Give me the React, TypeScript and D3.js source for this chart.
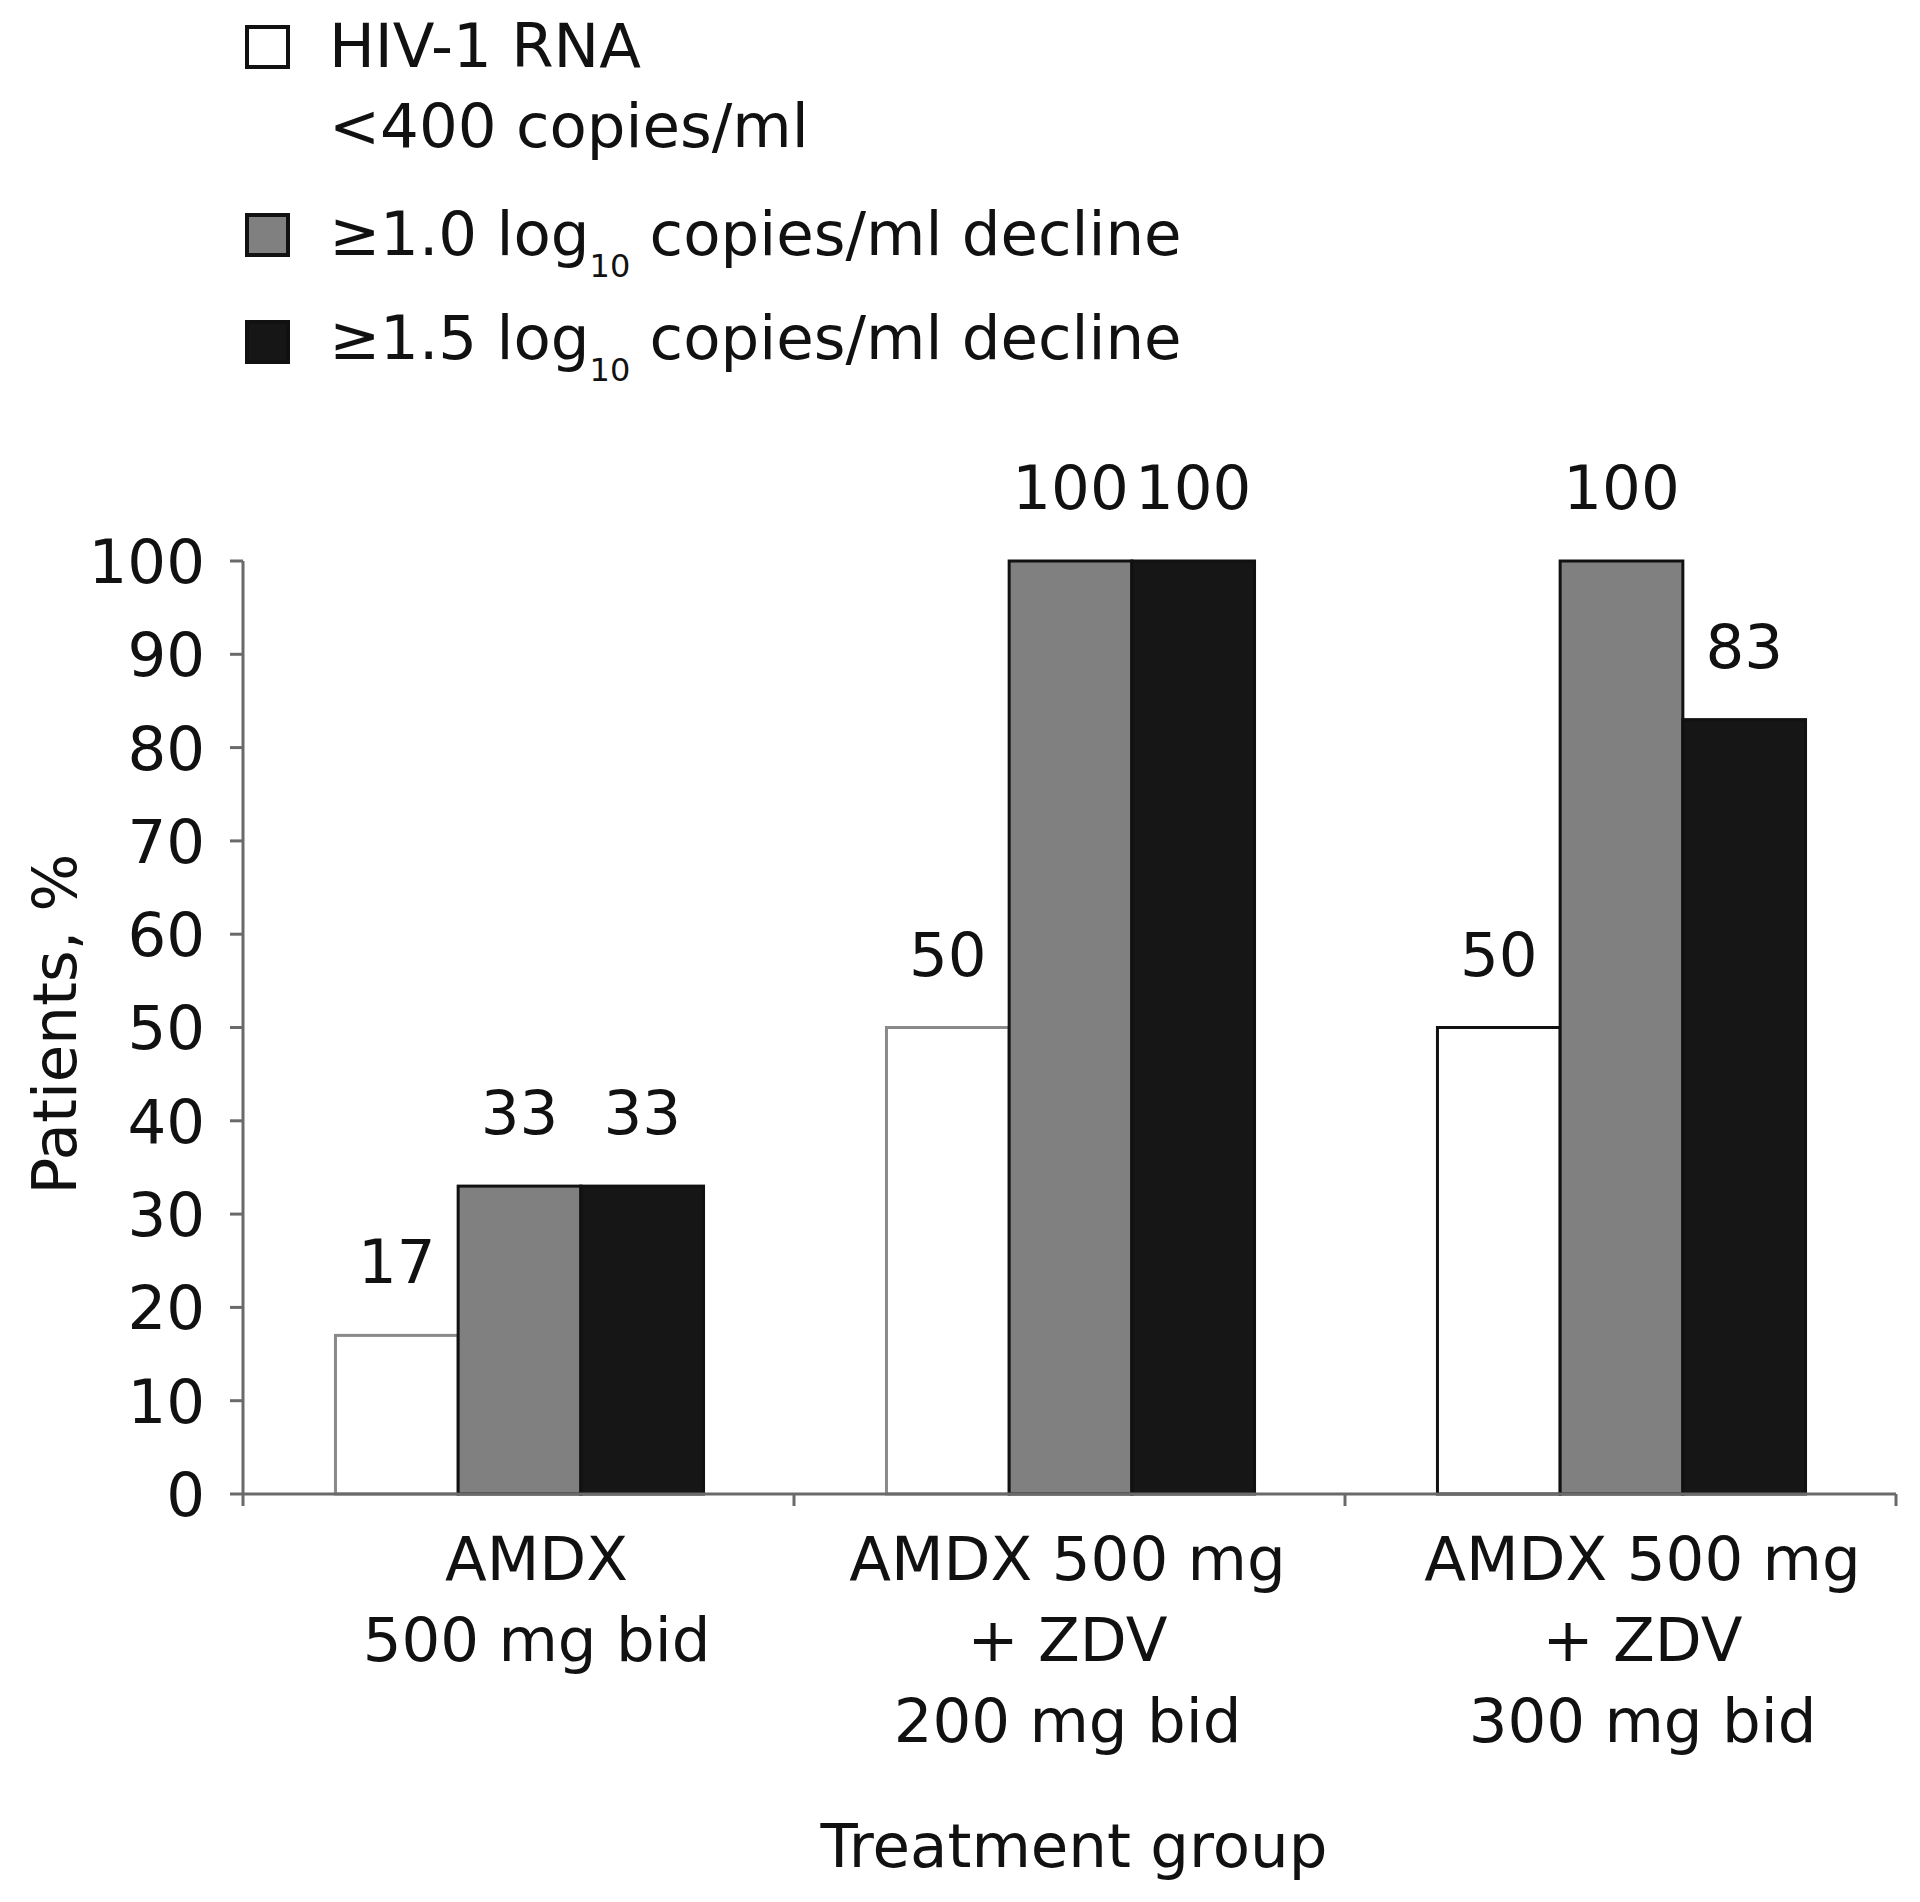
import React from "react";
import * as d3 from "d3";

const categories = ["AMDX 500 mg bid", "AMDX 500 mg + ZDV 200 mg bid", "AMDX 500 mg + ZDV 300 mg bid"];
const categoryLines = [
  ["AMDX", "500 mg bid"],
  ["AMDX 500 mg", "+ ZDV", "200 mg bid"],
  ["AMDX 500 mg", "+ ZDV", "300 mg bid"],
];
const seriesKeys = ["rna400", "decline10", "decline15"];
const rna400 = [17, 50, 50];
const decline10 = [33, 100, 100];
const decline15 = [33, 100, 83];
const yTicks = [0, 10, 20, 30, 40, 50, 60, 70, 80, 90, 100];

const W = 1920;
const H = 1902;
const FONT = "'DejaVu Sans', 'Liberation Sans', Arial, sans-serif";
const FS = 61;

export default function App() {
  const seriesValues: Record<string, number[]> = { rna400, decline10, decline15 };
  const fills: Record<string, string> = { rna400: "#ffffff", decline10: "#808080", decline15: "#161616" };

  const x0 = d3.scaleBand<string>().domain(categories).range([243, 1896]).paddingInner(0).paddingOuter(0);
  const bw = x0.bandwidth();
  const groupW = bw * 0.668;
  const x1 = d3.scaleBand<string>().domain(seriesKeys).range([0, groupW]).padding(0);
  const y = d3.scaleLinear().domain([0, 100]).range([1494, 561]);
  const y0 = y(0);
  const axisColor = "#6a6a6a";

  const bars: React.ReactNode[] = [];
  const labels: React.ReactNode[] = [];
  categories.forEach((c, ci) => {
    const gx = (x0(c) as number) + (bw - groupW) / 2 + 1;
    seriesKeys.forEach((k) => {
      const v = seriesValues[k][ci];
      const bx = gx + (x1(k) as number);
      const w = x1.bandwidth();
      const stroke = k === "rna400" ? (ci < 2 ? "#8a8a8a" : "#111") : "#111";
      bars.push(
        <rect key={`b-${ci}-${k}`} x={bx} y={y(v)} width={w} height={y0 - y(v)} fill={fills[k]} stroke={stroke} strokeWidth={3} />
      );
      labels.push(
        <text key={`l-${ci}-${k}`} x={bx + w / 2} y={y(v) - 52} textAnchor="middle" fontSize={FS} fill="#111">
          {v}
        </text>
      );
    });
  });

  const legendItems = [
    { key: "rna400", cy: 47 },
    { key: "decline10", cy: 235 },
    { key: "decline15", cy: 342 },
  ];

  const labelShift = [18, -2, 22];

  return (
    <svg
      width={W}
      height={H}
      style={{ display: "block", position: "absolute", left: 0, top: 0 }}
      fontFamily={FONT}
    >
      <rect x={0} y={0} width={W} height={H} fill="#fff" />
      {/* Legend */}
      {legendItems.map((it) => (
        <rect key={`lg-${it.key}`} x={247} y={it.cy - 20} width={41} height={40} fill={fills[it.key]} stroke="#111" strokeWidth={4} />
      ))}
      <text x={329} y={67} fontSize={FS} fill="#111">HIV-1 RNA</text>
      <text x={329} y={147} fontSize={FS} fill="#111">&lt;400 copies/ml</text>
      <text x={329} y={255} fontSize={FS} fill="#111">
        ≥1.0 log<tspan fontSize={32} dy={22}>10</tspan>
        <tspan dy={-22}> copies/ml decline</tspan>
      </text>
      <text x={329} y={359} fontSize={FS} fill="#111">
        ≥1.5 log<tspan fontSize={32} dy={22}>10</tspan>
        <tspan dy={-22}> copies/ml decline</tspan>
      </text>

      {/* Bars */}
      {bars}
      {labels}

      {/* Y axis */}
      <line x1={243} x2={243} y1={y(100)} y2={y0 + 12} stroke={axisColor} strokeWidth={3} />
      {yTicks.map((t) => (
        <g key={`yt-${t}`}>
          <line x1={230} x2={243} y1={y(t)} y2={y(t)} stroke={axisColor} strokeWidth={3} />
          <text x={205} y={y(t)} dy="0.36em" textAnchor="end" fontSize={FS} fill="#111">
            {t}
          </text>
        </g>
      ))}
      {/* X axis */}
      <line x1={243} x2={1896} y1={y0} y2={y0} stroke={axisColor} strokeWidth={3} />
      {categories.map((c) => (
        <line key={`xt-${c}`} x1={(x0(c) as number) + bw} x2={(x0(c) as number) + bw} y1={y0} y2={y0 + 12} stroke={axisColor} strokeWidth={3} />
      ))}
      {categories.map((c, ci) => {
        const cx = (x0(c) as number) + bw / 2 + labelShift[ci];
        return (
          <text key={`xl-${c}`} x={cx} y={y0 + 86} textAnchor="middle" fontSize={FS} fill="#111">
            {categoryLines[ci].map((ln, li) => (
              <tspan key={li} x={cx} dy={li === 0 ? 0 : 81}>
                {ln}
              </tspan>
            ))}
          </text>
        );
      })}

      {/* Axis titles */}
      <text transform={`translate(76,1024) rotate(-90)`} textAnchor="middle" fontSize={FS} fill="#111">
        Patients, %
      </text>
      <text x={1074} y={1867} textAnchor="middle" fontSize={FS} fill="#111">
        Treatment group
      </text>
    </svg>
  );
}
